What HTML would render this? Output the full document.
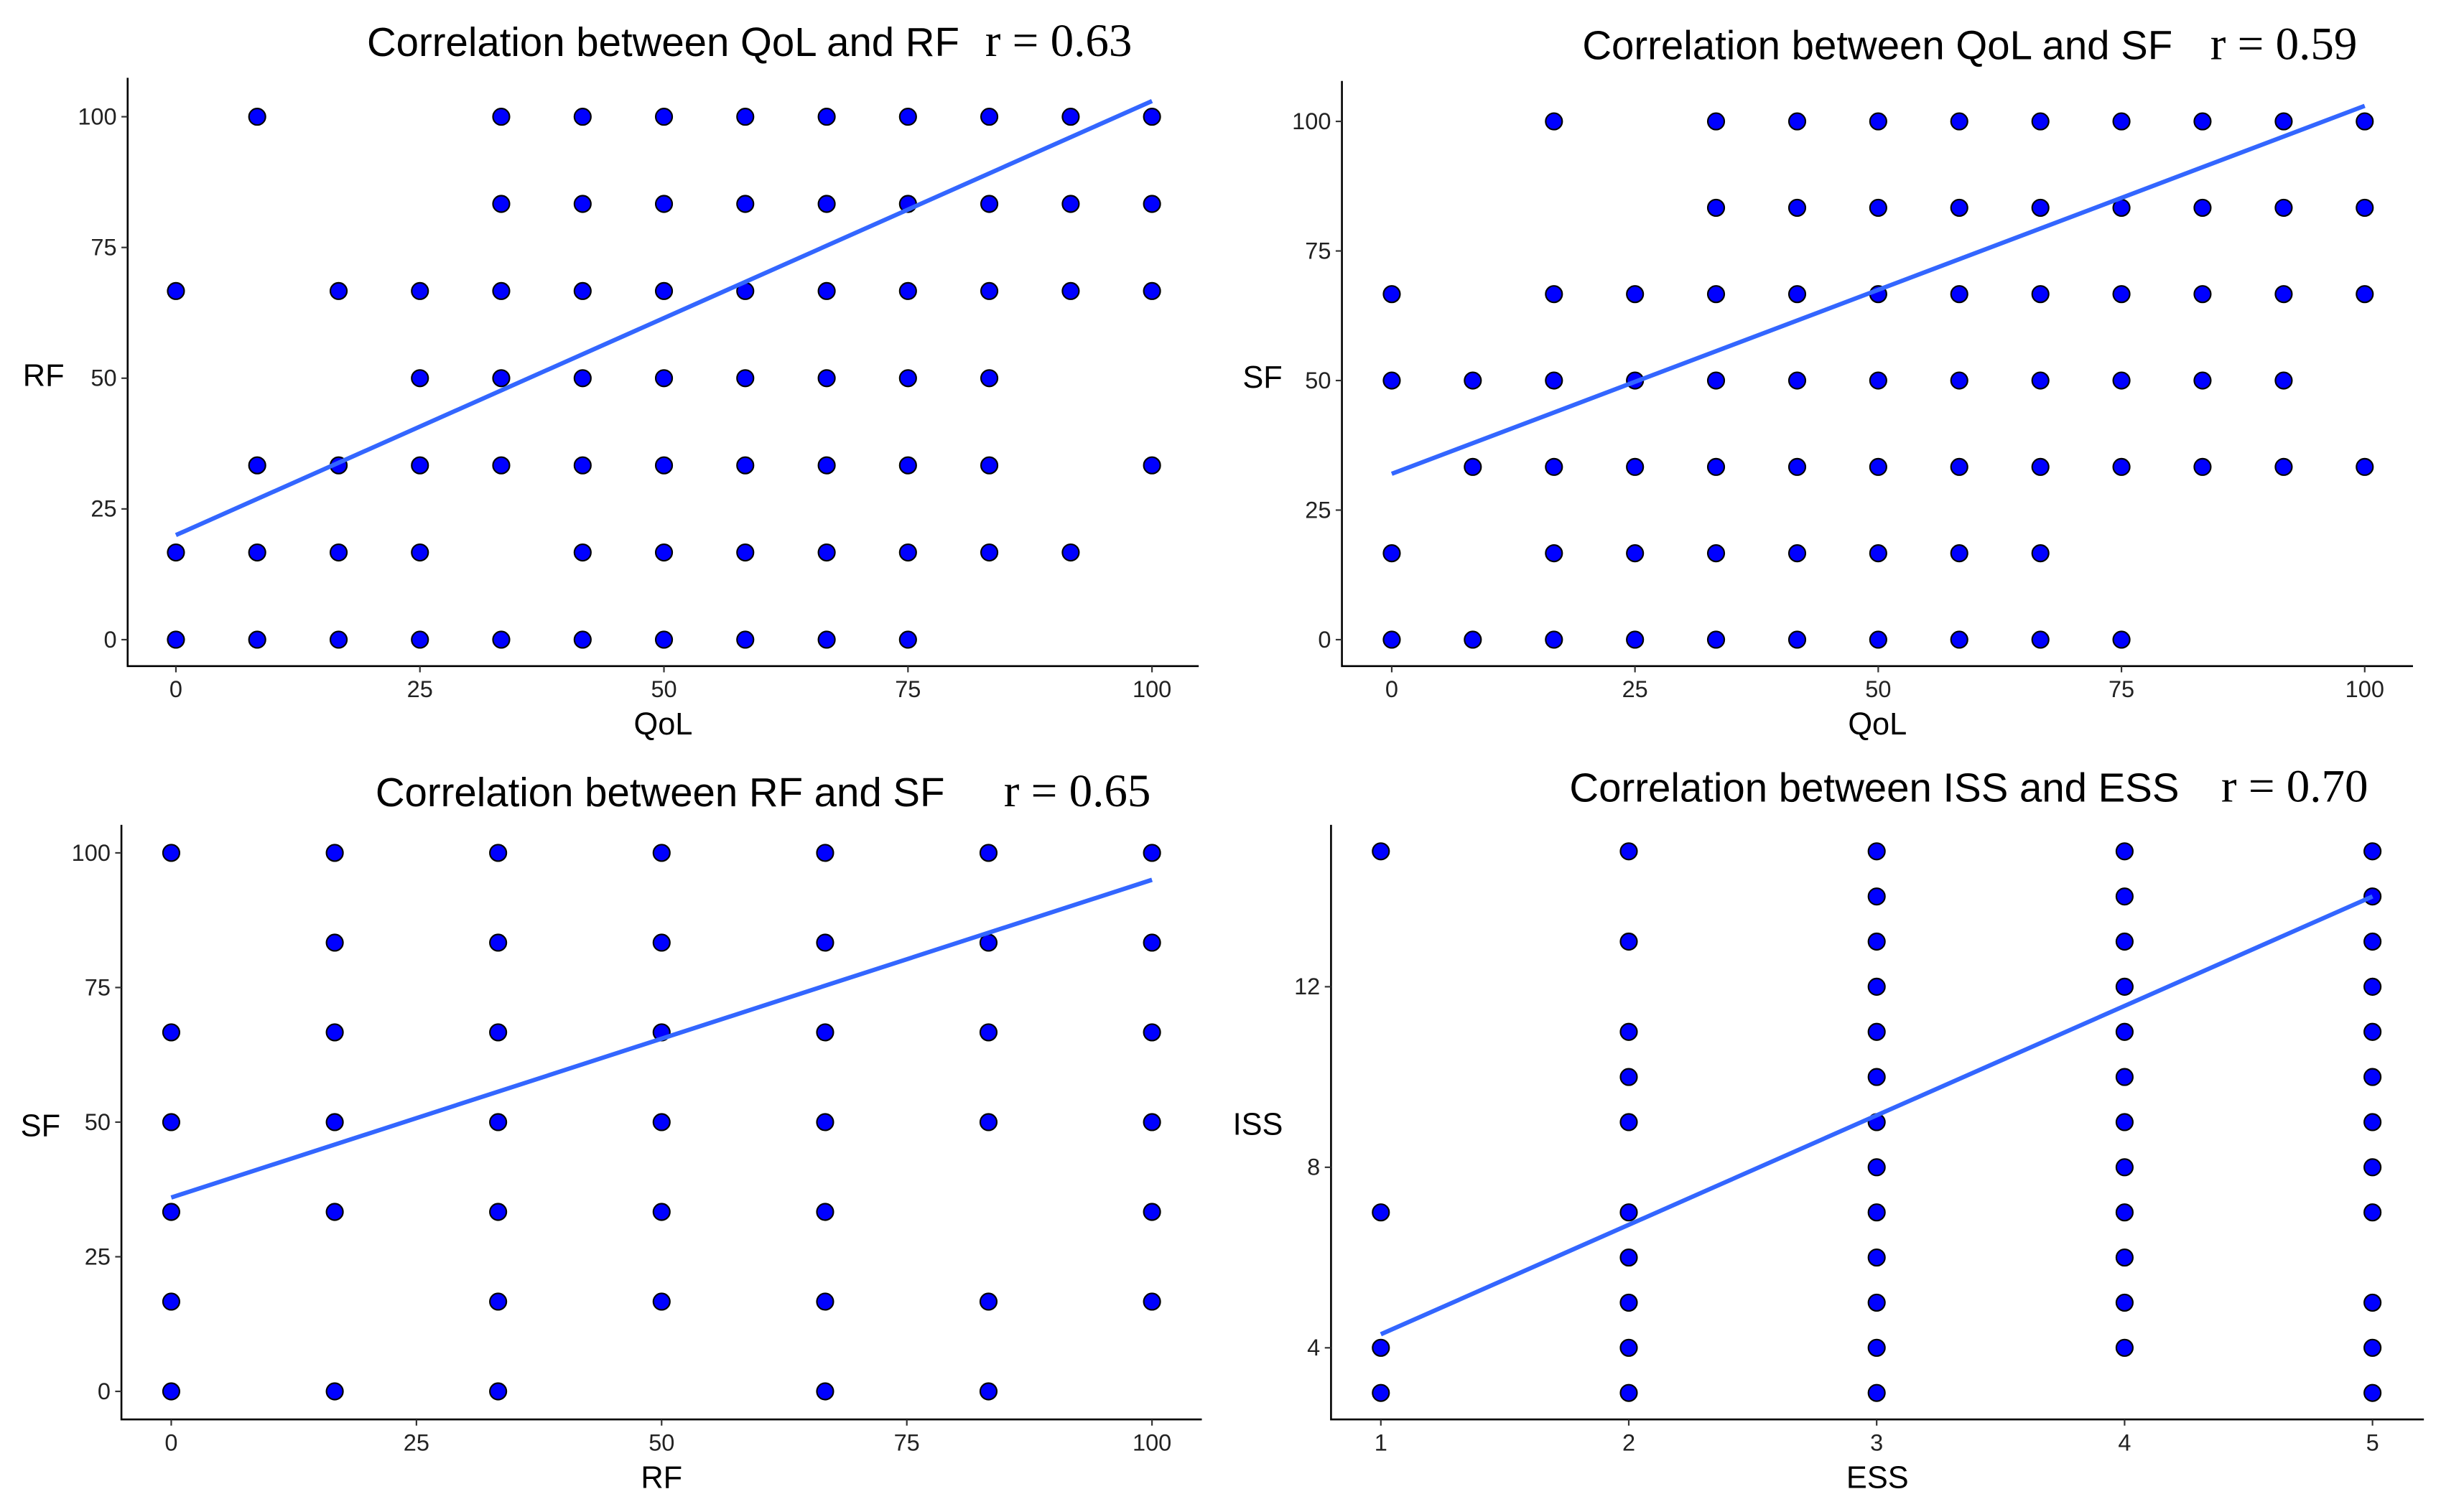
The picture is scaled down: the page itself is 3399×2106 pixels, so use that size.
<!DOCTYPE html>
<html><head><meta charset="utf-8"><style>
html,body{margin:0;padding:0;background:#fff;}
svg{display:block;}
.tick{font-family:"Liberation Sans Narrow","Liberation Sans",sans-serif;font-size:15px;fill:#222;}
.ttl{font-family:"Liberation Sans",sans-serif;font-size:26px;fill:#000;}
.rr{font-family:"Liberation Serif",serif;font-size:30px;fill:#000;}
.lab{font-family:"Liberation Sans",sans-serif;font-size:20px;fill:#000;}
</style></head><body>
<svg id="chart" width="3399" height="2106" viewBox="0 0 1568 971.5" preserveAspectRatio="none" xmlns="http://www.w3.org/2000/svg"></svg>
<script>
// Panel 1: QoL vs RF
const qolLevels=[0,8.33,16.67,25,33.33,41.67,50,58.33,66.67,75,83.33,91.67,100];
const rfRows1=[
 [100,[1,4,5,6,7,8,9,10,11,12]],
 [83.33,[4,5,6,7,8,9,10,11,12]],
 [66.67,[0,2,3,4,5,6,7,8,9,10,11,12]],
 [50,[3,4,5,6,7,8,9,10]],
 [33.33,[1,2,3,4,5,6,7,8,9,10,12]],
 [16.67,[0,1,2,3,5,6,7,8,9,10,11]],
 [0,[0,1,2,3,4,5,6,7,8,9]]];
const fit1=[[0,20],[100,103]];
// Panel 2: QoL vs SF
const sfRows2=[
 [100,[2,4,5,6,7,8,9,10,11,12]],
 [83.33,[4,5,6,7,8,9,10,11,12]],
 [66.67,[0,2,3,4,5,6,7,8,9,10,11,12]],
 [50,[0,1,2,3,4,5,6,7,8,9,10,11]],
 [33.33,[1,2,3,4,5,6,7,8,9,10,11,12]],
 [16.67,[0,2,3,4,5,6,7,8]],
 [0,[0,1,2,3,4,5,6,7,8,9]]];
const fit2=[[0,32],[100,103]];
// Panel 3: RF vs SF
const rfLevels=[0,16.67,33.33,50,66.67,83.33,100];
const sfRows3=[
 [100,[0,1,2,3,4,5,6]],
 [83.33,[1,2,3,4,5,6]],
 [66.67,[0,1,2,3,4,5,6]],
 [50,[0,1,2,3,4,5,6]],
 [33.33,[0,1,2,3,4,6]],
 [16.67,[0,2,3,4,5,6]],
 [0,[0,1,2,4,5]]];
const fit3=[[0,36],[100,95]];
// Panel 4: ESS vs ISS
const essCols=[
 [1,[15,7,4,3]],
 [2,[15,13,11,10,9,7,6,5,4,3]],
 [3,[15,14,13,12,11,10,9,8,7,6,5,4,3]],
 [4,[15,14,13,12,11,10,9,8,7,6,5,4]],
 [5,[15,14,13,12,11,10,9,8,7,5,4,3]]];
const fit4=[[1,4.3],[5,14]];
const ticks100=[0,25,50,75,100];
const ticksESS=[1,2,3,4,5];
const ticksISS=[4,8,12];

const NS="http://www.w3.org/2000/svg";
const svg=document.getElementById('chart');
function mk(tag,attrs,parent){const e=document.createElementNS(NS,tag);for(const k in attrs)e.setAttribute(k,attrs[k]);(parent||svg).appendChild(e);return e;}

function panel(o){
  const g=mk('g',{});
  
  
  const sx=v=>o.px0+(v-o.xd0)/(o.xd1-o.xd0)*(o.px1-o.px0);
  const sy=v=>o.py0+(v-o.yd0)/(o.yd1-o.yd0)*(o.py1-o.py0);
  const ax=mk('path',{d:`M${o.axL},${o.axT}V${o.axB}H${o.axR}`,fill:'none',stroke:'#000','stroke-width':1.2},g);
  
  
  o.xt.forEach(t=>{const x=sx(t);mk('line',{x1:x,x2:x,y1:o.axB,y2:o.axB+4,stroke:'#333','stroke-width':1},g);
    const tx=mk('text',{x:x,y:o.axB+20,'text-anchor':'middle',class:'tick'},g);tx.textContent=t;
    
    });
  o.yt.forEach(t=>{const y=sy(t);mk('line',{x1:o.axL-4,x2:o.axL,y1:y,y2:y,stroke:'#333','stroke-width':1},g);
    const tx=mk('text',{x:o.axL-7,y:y+5,'text-anchor':'end',class:'tick'},g);tx.textContent=t;
    
    });
  o.pts.forEach(p=>{const c=mk('circle',{cx:sx(p[0]),cy:sy(p[1]),r:5.3,fill:'#0000ff',stroke:'#000','stroke-width':1},g);
    
    });
  const ln=mk('line',{x1:sx(o.fit[0][0]),y1:sy(o.fit[0][1]),x2:sx(o.fit[1][0]),y2:sy(o.fit[1][1]),stroke:'#3366ff','stroke-width':2.8},g);
  
  
  const t=mk('text',{x:o.tx,y:o.ty,'text-anchor':'middle',class:'ttl'},g);t.textContent=o.title;
  
  
  const r=mk('text',{x:o.rx,y:o.ty,'text-anchor':'middle',class:'rr'},g);r.textContent='r = '+o.r;
  
  
  const xl=mk('text',{x:(o.axL+o.axR)/2,y:o.axB+44,'text-anchor':'middle',class:'lab'},g);xl.textContent=o.xlab;
  
  
  const yl=mk('text',{x:o.ylx,y:o.yly,'text-anchor':'middle',class:'lab'},g);yl.textContent=o.ylab;
  
  
}
function rowsToPts(rows,levels){const a=[];rows.forEach(r=>r[1].forEach(i=>a.push([levels[i],r[0]])));return a;}
function colsToPts(cols){const a=[];cols.forEach(c=>c[1].forEach(v=>a.push([c[0],v])));return a;}

panel({name:'panel-qol-rf',px0:113,px1:740,xd0:0,xd1:100,py0:411,py1:75,yd0:0,yd1:100,
  axL:82,axR:770,axT:50,axB:428,xt:ticks100,yt:ticks100,pts:rowsToPts(rfRows1,qolLevels),fit:fit1,
  title:'Correlation between QoL and RF',tx:426,ty:36,rx:680,r:'0.63',xlab:'QoL',ylab:'RF',ylx:28,yly:248});
panel({name:'panel-qol-sf',px0:894,px1:1519,xd0:0,xd1:100,py0:411,py1:78,yd0:0,yd1:100,
  axL:862,axR:1550,axT:52,axB:428,xt:ticks100,yt:ticks100,pts:rowsToPts(sfRows2,qolLevels),fit:fit2,
  title:'Correlation between QoL and SF',tx:1206,ty:38,rx:1467,r:'0.59',xlab:'QoL',ylab:'SF',ylx:811,yly:249});
panel({name:'panel-rf-sf',px0:110,px1:740,xd0:0,xd1:100,py0:894,py1:548,yd0:0,yd1:100,
  axL:78,axR:772,axT:530,axB:912,xt:ticks100,yt:ticks100,pts:rowsToPts(sfRows3,rfLevels),fit:fit3,
  title:'Correlation between RF and SF',tx:424,ty:518,rx:692,r:'0.65',xlab:'RF',ylab:'SF',ylx:26,yly:730});
panel({name:'panel-ess-iss',px0:887,px1:1524,xd0:1,xd1:5,py0:866,py1:634,yd0:4,yd1:12,
  axL:855,axR:1557,axT:530,axB:912,xt:ticksESS,yt:ticksISS,pts:colsToPts(essCols),fit:fit4,
  title:'Correlation between ISS and ESS',tx:1204,ty:515,rx:1474,r:'0.70',xlab:'ESS',ylab:'ISS',ylx:808,yly:729});
</script>
</body></html>
